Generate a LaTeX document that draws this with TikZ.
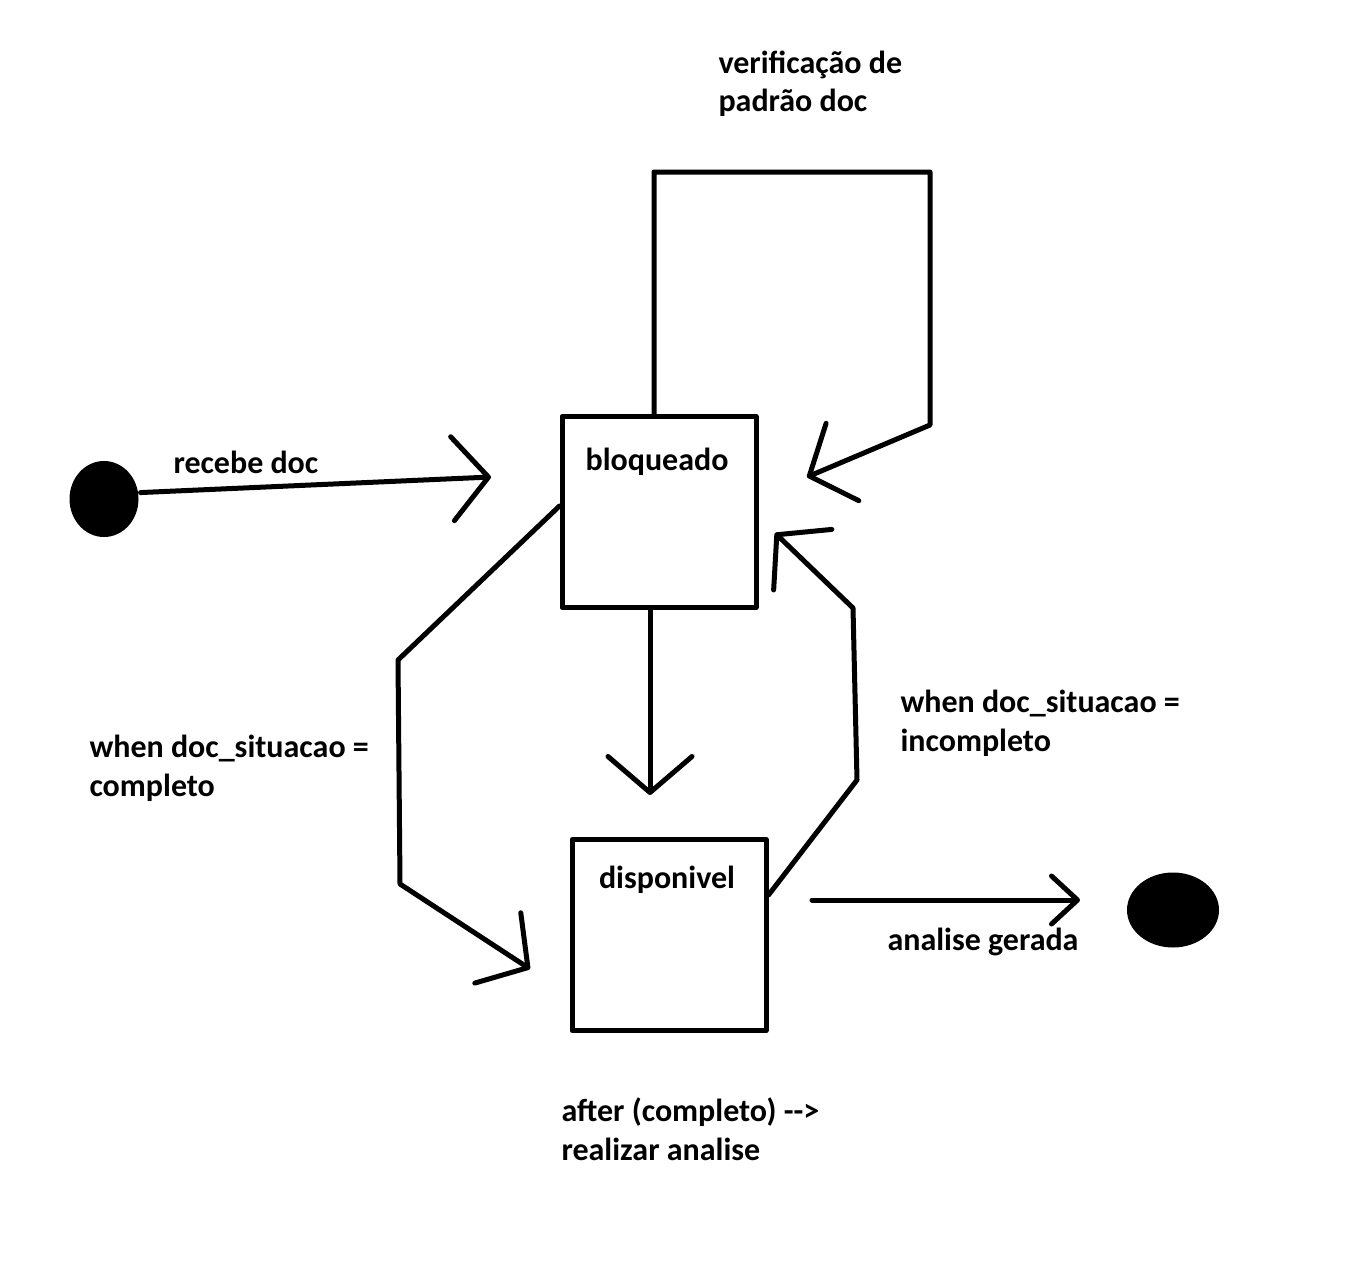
\documentclass[tikz,border=0pt]{standalone}
\usepackage{fontspec}
\setmainfont{Carlito}
\usetikzlibrary{arrows.meta,shapes.geometric}

\begin{document}
\begin{tikzpicture}[x=1pt, y=-1pt, line width=5pt, line cap=round, line join=round,
	every node/.style={font=\bfseries\fontsize{32}{38.5}\selectfont, inner sep=0pt, align=left},
	estado/.style={draw, rectangle, minimum width=194pt, minimum height=191pt},
	ponto/.style={ellipse, fill=black},
	seta/.style={-{Straight Barb[length=36pt, width=84pt, line width=5pt, round]}},
	setafim/.style={-{Straight Barb[length=26pt, width=48pt, line width=5pt, round]}}]

\useasboundingbox (0,0) rectangle (1365,1271);

\node[ponto, minimum width=69pt, minimum height=76pt] (inicio) at (104,499) {};
\node[estado] (bloq) at (659,512) {};
\node[estado] (disp) at (669,935) {};
\node[ponto, minimum width=92pt, minimum height=75pt] (fim) at (1173,910) {};

\node[anchor=base] (tbloq) at (657,470) {bloqueado};
\node[anchor=base] (tdisp) at (667,888) {disponivel};
\node[anchor=base west] (trecebe) at (171,473) {recebe doc};
\node[anchor=base west] (tverif) at (716,112) {verificação de\\padrão doc}; %base is last line
\node[anchor=base west] (tcompl) at (87,796) {when doc\_situacao =\\completo};
\node[anchor=base west] (tincompl) at (898,751) {when doc\_situacao =\\incompleto};
\node[anchor=base west] (tafter) at (559,1160) {after (completo) -{}->\\realizar analise};
\node[anchor=base west] (tgerada) at (885,950) {analise gerada};

% free ends and bends of the connectors
\coordinate (c1) at (491,477);
\coordinate (laco1) at (654,172);
\coordinate (laco2) at (930,172);
\coordinate (laco3) at (930,425);
\coordinate (c2) at (807,477);
\coordinate (c3) at (650,795);
\coordinate (esq1) at (398,660);
\coordinate (esq2) at (400,884);
\coordinate (c4) at (530,969);
\coordinate (dir1) at (857,780);
\coordinate (dir2) at (853,608);
\coordinate (c5) at (775,533);
\coordinate (saida) at (812,900);
\coordinate (c6) at (1080,900);

\draw[seta] (inicio.10) -- (c1);
\draw[seta] (bloq.north -| laco1) -- (laco1) -- (laco2) -- (laco3) -- (c2); %self loop
\draw[seta] (bloq.south -| c3) -- (c3);
\draw[seta] ([yshift=6pt]bloq.west) -- (esq1) -- (esq2) -- (c4);
\draw[seta] ([yshift=40pt]disp.east) -- (dir1) -- (dir2) -- (c5);
\draw[setafim] (saida) -- (c6);
\end{tikzpicture}
\end{document}
